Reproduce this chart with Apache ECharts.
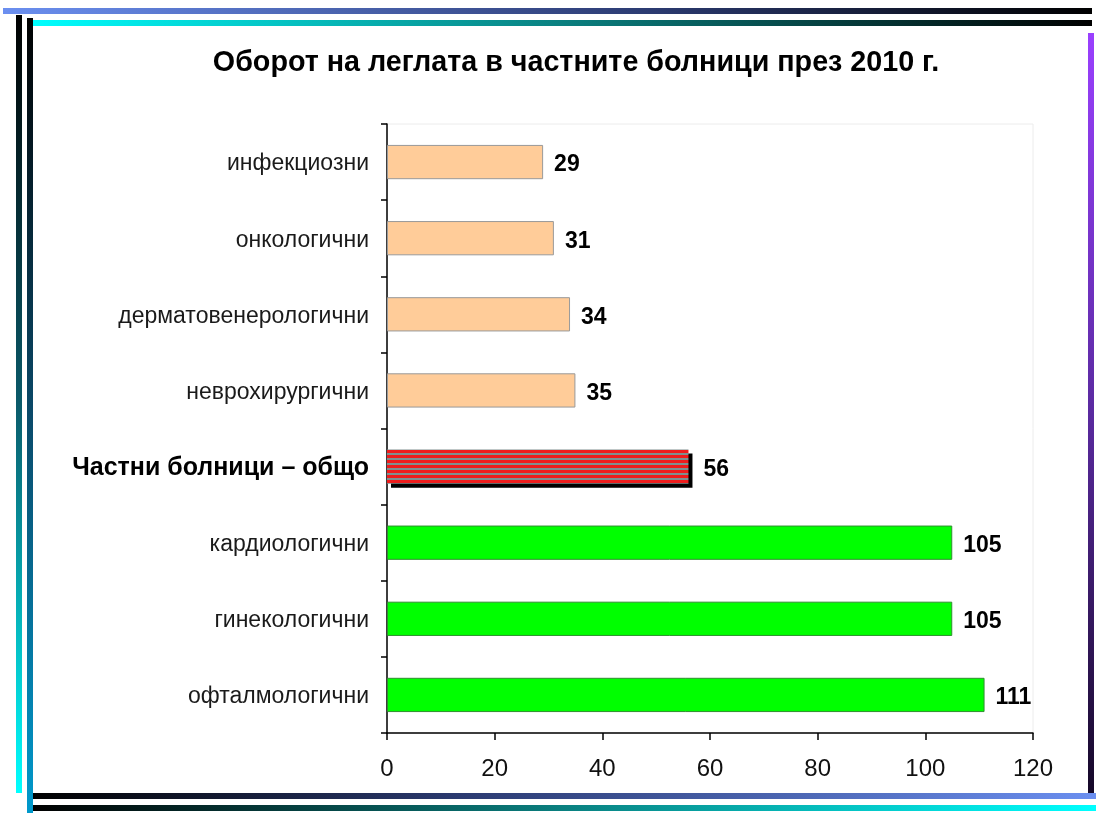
<!DOCTYPE html>
<html>
<head>
<meta charset="utf-8">
<style>
  html, body { margin: 0; padding: 0; background: #fff; }
  #chart { width: 1096px; height: 813px; }
</style>
<script src="https://cdn.jsdelivr.net/npm/echarts@6/dist/echarts.min.js"></script>
</head>
<body>
<div id="chart"></div>
<script>
// Bed turnover in private hospitals, 2010 (top to bottom as shown)
const TITLE = "Оборот на леглата в частните болници през 2010 г."
const CATEGORIES = [
  "инфекциозни",
  "онкологични",
  "дерматовенерологични",
  "неврохирургични",
  "Частни болници – общо",
  "кардиологични",
  "гинекологични",
  "офталмологични",
]
const VALUES = [29, 31, 34, 35, 56, 105, 105, 111]
const TOTAL_LABEL = "Частни болници – общо"
const X_TICKS = [0, 20, 40, 60, 80, 100, 120]

const FONT = "'Liberation Sans', Arial, sans-serif"

// red / grey horizontal stripes for the total bar
function stripePattern() {
  const c = document.createElement("canvas")
  c.width = 4
  c.height = 5
  const ctx = c.getContext("2d")
  ctx.fillStyle = "#ee1c1c"
  ctx.fillRect(0, 0, 4, 5)
  ctx.fillStyle = "#7f8f8f"
  ctx.fillRect(0, 3, 4, 2)
  return c
}

function barStyle(name, value) {
  if (name === TOTAL_LABEL) {
    return {
      color: {image: stripePattern(), repeat: "repeat"},
      borderWidth: 0,
      shadowColor: "#000",
      shadowBlur: 0,
      shadowOffsetX: 4,
      shadowOffsetY: 4,
    }
  }
  if (value > 56) {
    return {color: "#00ff00", borderColor: "#2f8f2f", borderWidth: 1}
  }
  return {color: "#ffcc99", borderColor: "#999999", borderWidth: 1}
}

function hLine(x, y, w, h, stops) {
  return {
    type: "rect",
    shape: {x, y, width: w, height: h},
    style: {fill: new echarts.graphic.LinearGradient(0, 0, 1, 0, stops)},
    silent: true,
  }
}

function vLine(x, y, w, h, stops) {
  return {
    type: "rect",
    shape: {x, y, width: w, height: h},
    style: {fill: new echarts.graphic.LinearGradient(0, 0, 0, 1, stops)},
    silent: true,
  }
}

const frame = [
  hLine(3, 8, 1089, 6, [{offset: 0, color: "#6b8ff0"}, {offset: 0.6, color: "#2b3a70"}, {offset: 1, color: "#000"}]),
  hLine(30, 20, 1062, 6, [{offset: 0, color: "#00ffff"}, {offset: 0.5, color: "#0a8080"}, {offset: 1, color: "#000"}]),
  vLine(16, 15, 6, 778, [{offset: 0, color: "#000"}, {offset: 0.5, color: "#0a5a6a"}, {offset: 1, color: "#00ffff"}]),
  vLine(27, 18, 6, 795, [{offset: 0, color: "#000"}, {offset: 0.5, color: "#0a4a6a"}, {offset: 1, color: "#0099cc"}]),
  hLine(33, 793, 1063, 6, [{offset: 0, color: "#000"}, {offset: 0.4, color: "#2b3a70"}, {offset: 1, color: "#6b8ff0"}]),
  hLine(33, 805, 1063, 6, [{offset: 0, color: "#000"}, {offset: 0.5, color: "#0a8080"}, {offset: 1, color: "#00ffff"}]),
  vLine(1088, 33, 6, 760, [{offset: 0, color: "#9a40ff"}, {offset: 0.5, color: "#5a2aa0"}, {offset: 1, color: "#150828"}]),
]

const chart = echarts.init(document.getElementById("chart"), null, {renderer: "canvas"})

chart.setOption({
  backgroundColor: "#fff",
  animation: false,
  title: {
    text: TITLE,
    left: 571,
    top: 44,
    textAlign: "center",
    textStyle: {fontFamily: FONT, fontSize: 28.7, fontWeight: "bold", color: "#000"},
  },
  graphic: frame,
  grid: {
    left: 387,
    right: 63,
    top: 124,
    bottom: 80,
    show: true,
    borderColor: "#ececec",
    borderWidth: 1,
    backgroundColor: "transparent",
  },
  xAxis: {
    type: "value",
    min: X_TICKS[0],
    max: X_TICKS[X_TICKS.length - 1],
    interval: 20,
    axisLine: {show: true, lineStyle: {color: "#000", width: 1.5}},
    axisTick: {show: true, inside: false, length: 7, lineStyle: {color: "#000", width: 1.5}},
    axisLabel: {fontFamily: FONT, fontSize: 24, color: "#111", margin: 24},
    splitLine: {show: false},
  },
  yAxis: {
    type: "category",
    data: CATEGORIES,
    inverse: true,
    axisLine: {show: true, lineStyle: {color: "#000", width: 1.5}},
    axisTick: {show: true, inside: false, length: 6, alignWithLabel: false, lineStyle: {color: "#000", width: 1.5}},
    axisLabel: {
      fontFamily: FONT,
      fontSize: 23,
      color: "#1a1a1a",
      margin: 18,
      padding: [4, 0, 0, 0],
      formatter: v => (v === TOTAL_LABEL ? `{b|${v}}` : v),
      rich: {b: {fontFamily: FONT, fontSize: 25, fontWeight: "bold", color: "#000"}},
    },
    splitLine: {show: false},
  },
  series: [
    {
      type: "bar",
      barCategoryGap: "55%",
      data: VALUES.map((v, i) => ({
        value: v,
        itemStyle: barStyle(CATEGORIES[i], v),
        label: {distance: CATEGORIES[i] === TOTAL_LABEL ? 15 : 11},
      })),
      label: {
        show: true,
        position: "right",
        offset: [0, 3],
        fontFamily: FONT,
        fontSize: 23,
        fontWeight: "bold",
        color: "#000",
      },
    },
  ],
})
</script>
</body>
</html>
